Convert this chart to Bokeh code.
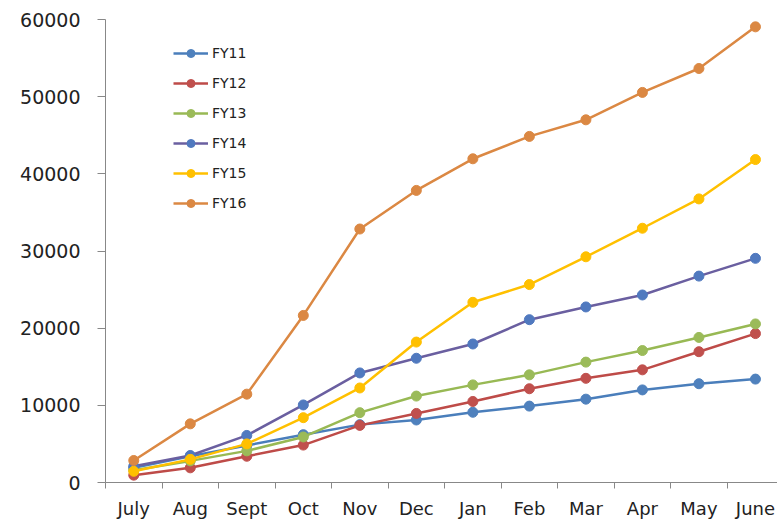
from bokeh.plotting import figure
from bokeh.models import Range1d, FixedTicker, Legend
from bokeh.embed import file_html
from bokeh.resources import INLINE

months = ["July", "Aug", "Sept", "Oct", "Nov", "Dec", "Jan", "Feb", "Mar", "Apr", "May", "June"]
fy11 = [1900, 3400, 4800, 6200, 7500, 8100, 9100, 9900, 10800, 12000, 12800, 13400]
fy12 = [950, 1900, 3400, 4850, 7400, 8950, 10500, 12150, 13500, 14600, 16950, 19300]
fy13 = [1600, 2800, 4100, 5900, 9050, 11200, 12650, 13950, 15600, 17100, 18800, 20550]
fy14 = [2100, 3500, 6100, 10050, 14200, 16100, 17950, 21100, 22750, 24300, 26750, 29050]
fy15 = [1450, 3000, 5000, 8400, 12250, 18200, 23350, 25650, 29250, 32950, 36750, 41850]
fy16 = [2850, 7600, 11450, 21650, 32850, 37850, 41950, 44850, 47000, 50550, 53650, 59050]
y_ticks = [0, 10000, 20000, 30000, 40000, 50000, 60000]

series = [
    ("FY11", fy11, "#4A7EBB", "#4F81BD"),
    ("FY12", fy12, "#BE4B48", "#C0504D"),
    ("FY13", fy13, "#98B954", "#9BBB59"),
    ("FY14", fy14, "#6A5FA0", "#5079BF"),
    ("FY15", fy15, "#FFC000", "#FFC000"),
    ("FY16", fy16, "#DB8843", "#DB8843"),
]

# month positions: centre of each category slot on a numeric axis
xs = [i + 0.5 for i in range(len(months))]

p = figure(width=777, height=522, output_backend="svg", toolbar_location=None,
           x_range=Range1d(0, 11.89), y_range=Range1d(0, 60000),
           min_border_left=105, min_border_top=19, min_border_bottom=40, min_border_right=0)
p.outline_line_color = None
p.grid.grid_line_color = None
p.background_fill_color = "white"

items = []
for name, vals, lc, mc in series:
    r1 = p.line(xs, vals, line_color=lc, line_width=2.5)
    r2 = p.scatter(xs, vals, marker="circle", size=10, fill_color=mc, line_color=mc)
    items.append((name, [r1, r2]))

legend = Legend(items=items, location=(68, 269), margin=0, padding=0,
                glyph_width=35, glyph_height=20, label_height=20, spacing=10,
                label_standoff=4, label_text_font="DejaVu Sans",
                label_text_font_size="14px", label_text_color="#222222",
                background_fill_alpha=0, border_line_alpha=0)
p.add_layout(legend, "center")

# x axis
xa = p.xaxis[0]
xa.ticker = FixedTicker(ticks=xs, minor_ticks=list(range(len(months) + 1)))
xa.major_label_overrides = {x: m for x, m in zip(xs, months)}
xa.major_tick_out = 0
xa.major_tick_in = 0
xa.minor_tick_out = 6
xa.minor_tick_in = 0
xa.minor_tick_line_color = "#888888"
xa.axis_line_color = "#888888"
xa.major_label_standoff = 9
xa.major_label_text_font = "DejaVu Sans"
xa.major_label_text_font_size = "18px"
xa.major_label_text_color = "#222222"

# y axis
ya = p.yaxis[0]
ya.ticker = FixedTicker(ticks=y_ticks)
ya.minor_tick_line_color = None
ya.major_tick_out = 8
ya.major_tick_in = 0
ya.major_tick_line_color = "#888888"
ya.axis_line_color = "#888888"
ya.major_label_standoff = 17
ya.major_label_text_font = "DejaVu Sans"
ya.major_label_text_font_size = "19px"
ya.major_label_text_color = "#222222"

open("out.html", "w").write(file_html(p, INLINE))
